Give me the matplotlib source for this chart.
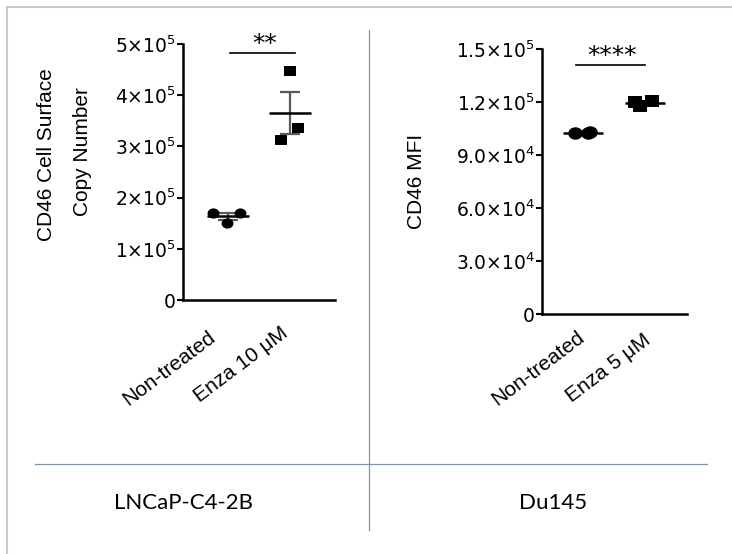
import matplotlib
matplotlib.use("Agg")
import matplotlib.pyplot as plt
import numpy as np
from matplotlib.lines import Line2D
from matplotlib.path import Path
from matplotlib.transforms import Affine2D, ScaledTranslation, blended_transform_factory
from matplotlib.ticker import FixedLocator, FixedFormatter

plt.rcParams['font.family'] = ['Liberation Sans', 'DejaVu Sans']
plt.rcParams['mathtext.fontset'] = 'dejavusans'

# ---------------- data ----------------
left_categories = ["Non-treated", "Enza 10 μM"]
left_nontreated = [1.70e5, 1.70e5, 1.50e5]
left_enza = [4.47e5, 3.36e5, 3.12e5]
left_yticks = [0, 1e5, 2e5, 3e5, 4e5, 5e5]
left_yticklabels = ["0", r"$\mathregular{1{\times}10^{5}}$", r"$\mathregular{2{\times}10^{5}}$",
                    r"$\mathregular{3{\times}10^{5}}$", r"$\mathregular{4{\times}10^{5}}$",
                    r"$\mathregular{5{\times}10^{5}}$"]
left_ylabel = ["CD46 Cell Surface", "Copy Number"]
left_sig = "**"
left_sig_y = 4.83e5

right_categories = ["Non-treated", "Enza 5 μM"]
right_nontreated = [1.025e5, 1.03e5, 1.025e5]
right_enza = [1.20e5, 1.18e5, 1.205e5]
right_yticks = [0, 3e4, 6e4, 9e4, 1.2e5, 1.5e5]
right_yticklabels = ["0", r"$\mathregular{3.0{\times}10^{4}}$", r"$\mathregular{6.0{\times}10^{4}}$",
                     r"$\mathregular{9.0{\times}10^{4}}$", r"$\mathregular{1.2{\times}10^{5}}$",
                     r"$\mathregular{1.5{\times}10^{5}}$"]
right_ylabel = "CD46 MFI"
right_sig = "****"
right_sig_y = 1.41e5

cell_lines = ["LNCaP-C4-2B", "Du145"]

# ---------------- layout ----------------
W, H = 732, 554
fig = plt.figure(figsize=(W / 100, H / 100), dpi=100)
fig.patch.set_facecolor('white')

STRETCH = 1.17
ellipse = Path.unit_circle().transformed(Affine2D().scale(STRETCH, 1.0))
sq_verts = np.array([[-1, -1], [1, -1], [1, 1], [-1, 1], [-1, -1]], float)
rect_path = Path(sq_verts * np.array([STRETCH, 1.0]),
                 [Path.MOVETO, Path.LINETO, Path.LINETO, Path.LINETO, Path.CLOSEPOLY])


def rect(x0, x1, ytop, ybot):
    return [x0 / W, 1 - ybot / H, (x1 - x0) / W, (ybot - ytop) / H]


def fx(x):
    return x / W


def fy(y):
    return 1 - y / H


def panel(ax, cats, g1, g2, yticks, yticklabels, ylim, xlim, sig, sig_y, sig_x,
          off1, off2, lab_off, msizes, half_w):
    for s in ['top', 'right']:
        ax.spines[s].set_visible(False)
    for s in ['left', 'bottom']:
        ax.spines[s].set_linewidth(1.8)
        ax.spines[s].set_color('black')
    ax.set_xlim(*xlim)
    ax.set_ylim(*ylim)
    ax.yaxis.set_major_locator(FixedLocator(yticks))
    ax.yaxis.set_major_formatter(FixedFormatter(yticklabels))
    for lab in ax.get_yticklabels():
        lab.set_family(['DejaVu Sans'])
    ax.tick_params(axis='y', direction='out', length=4, width=1.5, labelsize=13.5,
                   pad=1, colors='black')
    ax.set_xticks([0, 1])
    ax.set_xticklabels([])
    ax.tick_params(axis='x', length=0)
    btrans = blended_transform_factory(ax.transData, ax.transAxes)
    for i, cat in enumerate(cats):
        dx, dy = lab_off[i]
        tr = btrans + ScaledTranslation(dx / 100, -dy / 100, fig.dpi_scale_trans)
        ax.text(i, 0, cat, transform=tr, rotation=37, ha='right', va='top',
                rotation_mode='anchor', fontsize=15, clip_on=False)

    for i, (vals, offs, mk, ms) in enumerate([(g1, off1, ellipse, msizes[0]),
                                              (g2, off2, rect_path, msizes[1])]):
        vals = np.asarray(vals)
        m = vals.mean()
        sem = vals.std(ddof=1) / np.sqrt(len(vals))
        ax.errorbar([i], [m], yerr=[sem], fmt='none', ecolor='#5a5a5a',
                    elinewidth=1.6, capsize=7, capthick=1.6, zorder=3)
        ax.plot([i - half_w, i + half_w], [m, m], color='black', lw=1.8, zorder=4,
                solid_capstyle='butt')
        ax.scatter(np.array(offs) + i, vals, marker=mk, s=ms ** 2, color='black',
                   zorder=5, linewidths=0)
    ax.plot(sig_x, [sig_y, sig_y], color='black', lw=1.2, clip_on=False)
    ax.annotate(sig, (np.mean(sig_x), sig_y), xytext=(1.5, 1.5),
                textcoords='offset points', ha='center', va='baseline',
                fontsize=18, family=['DejaVu Sans'], annotation_clip=False)


axL = fig.add_axes(rect(183, 335, 44, 300))
panel(axL, left_categories, left_nontreated, left_enza, left_yticks,
      left_yticklabels, (0, 5e5), (-0.726, 1.726), left_sig, left_sig_y,
      [0.03, 1.08], [-0.24, 0.19, -0.02], [0.0, 0.13, -0.14],
      [(-20, 27), (-10, 23)], (8.6, 8.4), 0.34)

axR = fig.add_axes(rect(542, 687, 49, 314))
panel(axR, right_categories, right_nontreated, right_enza, right_yticks,
      right_yticklabels, (0, 1.5e5), (-0.66, 1.68), right_sig, right_sig_y,
      [-0.11, 1.0], [-0.13, 0.11, 0.08], [-0.16, -0.08, 0.11],
      [(-6, 13), (-2, 16)], (10.5, 9.5), 0.32)

# y labels
fig.text(fx(47), fy(155), left_ylabel[0], rotation=90, ha='center',
         va='center', fontsize=15)
fig.text(fx(82), fy(152), left_ylabel[1], rotation=90, ha='center',
         va='center', fontsize=15)
fig.text(fx(417), fy(181), right_ylabel, rotation=90, ha='center',
         va='center', fontsize=15)

# frame and table lines
frame_c = '#c8c8c8'
fig.add_artist(Line2D([fx(7), fx(7)], [fy(7), fy(554)], color=frame_c, lw=1.5))
fig.add_artist(Line2D([fx(7), fx(732)], [fy(7), fy(7)], color=frame_c, lw=1.5))
grid_c = '#8294a6'
fig.add_artist(Line2D([fx(35), fx(707)], [fy(464), fy(464)], color=grid_c, lw=0.9))
fig.add_artist(Line2D([fx(369), fx(369)], [fy(30), fy(530)], color=grid_c, lw=0.9))

fig.text(fx(183), fy(503), cell_lines[0], ha='center', va='center',
         fontsize=16, family=['Lato', 'DejaVu Sans'])
fig.text(fx(553), fy(503), cell_lines[1], ha='center', va='center',
         fontsize=16, family=['Lato', 'DejaVu Sans'])

fig.savefig("out.png", dpi=100, facecolor='white')
